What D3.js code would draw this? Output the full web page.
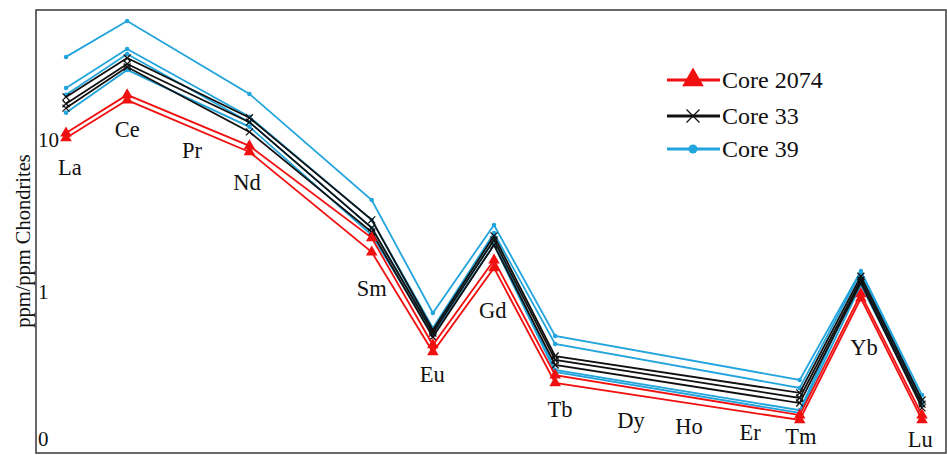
<!DOCTYPE html>
<html><head><meta charset="utf-8">
<script src="https://cdn.jsdelivr.net/npm/d3@7"></script>
<style>body{margin:0;background:#fff}svg{display:block}text{font-family:"Liberation Serif","Times New Roman",serif;fill:#111}</style>
</head><body><svg id="c" width="947" height="455"></svg>
<script>
const elements = ["La","Ce","Pr","Nd","Pm","Sm","Eu","Gd","Tb","Dy","Ho","Er","Tm","Yb","Lu"];
const labelElements = ["La","Ce","Pr","Nd","Sm","Eu","Gd","Tb","Dy","Ho","Er","Tm","Yb","Lu"];
const labelIndex = [0.065,1.0,2.06,2.96,5.0,5.99,6.98,8.08,9.24,10.19,11.19,12.02,13.05,13.97];
const labelValues = [5.89,10.5,7.61,4.69,0.94,0.256,0.674,0.151,0.127,0.116,0.106,0.100,0.385,0.0955];
const yTickValues = [10,1,0.1];
const yTickLabels = ["10","1","0"];
const seriesNames = ["Core 2074","Core 33","Core 39"];
const seriesColors = ["#f01010","#111111","#22a4dc"];
// values in element order; null = not analysed
const core2074 = [
  [11.1,19.8,null,9.14,null,2.27,0.448,1.62,0.284,null,null,null,0.155,0.97,0.155],
  [10.3,18.3,null,8.34,null,1.83,0.403,1.44,0.252,null,null,null,0.144,0.91,0.144]
];
const core33 = [
  [19.2,34.6,null,14.0,null,2.98,0.562,2.34,0.379,null,null,null,0.217,1.27,0.195],
  [17.3,31.6,null,13.1,null,2.64,0.537,2.20,0.357,null,null,null,0.201,1.20,0.183],
  [16.2,30.2,null,11.3,null,2.48,0.506,2.04,0.331,null,null,null,0.186,1.15,0.173]
];
const core39 = [
  [35.2,60.6,null,20.1,null,4.03,0.727,2.76,0.514,null,null,null,0.264,1.375,0.210],
  [22.0,39.7,null,14.2,null,2.98,0.580,2.44,0.455,null,null,null,0.234,1.35,0.195],
  [19.8,36.8,null,13.1,null,2.64,0.554,2.20,0.307,null,null,null,0.167,1.24,0.186],
  [15.1,28.9,null,12.2,null,2.37,0.521,2.04,0.298,null,null,null,0.160,1.11,0.181]
];

const svg = d3.select("#c");
const mLeft=36, mRight=946, mTop=10, mBottom=453;
const x = d3.scalePoint().domain(elements).range([66,922]);
const xi = d3.scaleLinear().domain([0,elements.length-1]).range([66,922]);
const y = d3.scaleLog().domain([0.0873,71.6]).range([mBottom,mTop]);

// frame
svg.append("rect").attr("x",mLeft).attr("y",mTop).attr("width",mRight-mLeft).attr("height",mBottom-mTop)
  .attr("fill","none").attr("stroke","#444").attr("stroke-width",1.6);

// y tick labels
svg.selectAll(".yt").data(yTickValues).enter().append("text")
  .attr("x",38).attr("y",d=>Math.min(y(d)+7,446)).attr("font-size",21).text((d,i)=>yTickLabels[i]);

// y axis title
svg.append("text").attr("transform","translate(30,241) rotate(-90)")
  .attr("text-anchor","middle").attr("font-size",20.5).text("ppm/ppm Chondrites");

// element labels
svg.selectAll(".el").data(labelElements).enter().append("text")
  .attr("x",(d,i)=>xi(labelIndex[i])).attr("y",(d,i)=>y(labelValues[i])).attr("text-anchor","middle")
  .attr("font-size",22.5).text(d=>d);

const line = d3.line().x(d=>x(d.e)).y(d=>y(d.v));
function pts(arr){return elements.map((e,i)=>({e,v:arr[i]})).filter(d=>d.v!=null);}

function marker(g, type, color, cx, cy, s){
  if(type==="tri"){
    g.append("path").attr("d",d3.symbol(d3.symbolTriangle, s*s*0.9)()).attr("transform",`translate(${cx},${cy})`).attr("fill",color);
  } else if(type==="x"){
    const r=s/2;
    g.append("path").attr("d",`M${cx-r},${cy-r}L${cx+r},${cy+r}M${cx-r},${cy+r}L${cx+r},${cy-r}`).attr("stroke",color).attr("stroke-width",1.3);
  } else {
    g.append("circle").attr("cx",cx).attr("cy",cy).attr("r",s/2).attr("fill",color);
  }
}

const groups = [
  {data:core39, color:seriesColors[2], type:"dot"},
  {data:core33, color:seriesColors[1], type:"x"},
  {data:core2074, color:seriesColors[0], type:"tri"}
];
groups.forEach(gr=>{
  gr.data.forEach(s=>{
    const g = svg.append("g");
    const p = pts(s);
    g.append("path").attr("d",line(p)).attr("fill","none").attr("stroke",gr.color).attr("stroke-width",1.8).attr("stroke-linejoin","miter");
    p.forEach(d=>marker(g,gr.type,gr.color,x(d.e),y(d.v),gr.type==="tri"?8:(gr.type==="x"?7:4.5)));
  });
});

// legend
const legTypes=["tri","x","dot"];
const legY=[80,116,149];
seriesNames.forEach((n,i)=>{
  const g=svg.append("g");
  g.append("line").attr("x1",667).attr("x2",720).attr("y1",legY[i]).attr("y2",legY[i]).attr("stroke",seriesColors[i]).attr("stroke-width",3);
  marker(g,legTypes[i],seriesColors[i],693,legY[i],legTypes[i]==="tri"?15:(legTypes[i]==="x"?13:9));
  g.append("text").attr("x",722).attr("y",legY[i]+8).attr("font-size",24).text(n);
});
</script></body></html>
